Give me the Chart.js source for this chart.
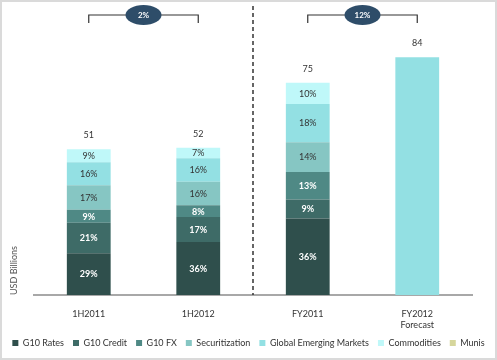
<!DOCTYPE html>
<html>
<head>
<meta charset="utf-8">
<script src="https://cdn.jsdelivr.net/npm/chart.js@4.4.1/dist/chart.umd.min.js"></script>
<style>
  html, body { margin: 0; padding: 0; background: #fff; }
  #wrap { width: 497px; height: 360px; position: relative; }
</style>
</head>
<body>
<div id="wrap"><canvas id="c" width="497" height="360"></canvas></div>
<script>
// ---- Data ----
const categories = ['1H2011', '1H2012', 'FY2011', ['FY2012', 'Forecast']];
const totals = [51, 52, 75, 84];            // USD billions
// Shares of total (%) per business line
const g10Rates       = [29, 36, 36, null];
const g10Credit      = [21, 17, 9, null];
const g10FX          = [9, 8, 13, null];
const securitization = [17, 16, 14, null];
const globalEM       = [16, 16, 18, null];
const commodities    = [9, 7, 10, null];
const munis          = [null, null, null, null];
const forecastTotal  = [null, null, null, 84];
// Growth brackets
const growthPairs  = [[0, 1], [2, 3]];
const growthLabels = ['2%', '12%'];

const seriesNames  = ['G10 Rates', 'G10 Credit', 'G10 FX', 'Securitization', 'Global Emerging Markets', 'Commodities', 'Munis'];
const seriesShares = [g10Rates, g10Credit, g10FX, securitization, globalEM, commodities, munis];
const seriesColors = ['#2f4f4c', '#3e6b67', '#4f8985', '#86c6c3', '#93e0e3', '#bff8f9', '#d6d69c'];
const labelColors  = ['#ffffff', '#ffffff', '#ffffff', '#333333', '#333333', '#333333', '#333333'];

const FONT = 'Lato, "Open Sans", sans-serif';

const datasets = seriesNames.map((name, i) => ({
  label: name,
  data: seriesShares[i].map((s, j) => s == null ? null : totals[j] * s / 100),
  shares: seriesShares[i],
  backgroundColor: seriesColors[i],
  labelColor: labelColors[i],
  stack: 's',
  barPercentage: 0.4,
  categoryPercentage: 1.0,
  borderWidth: 0
}));
datasets.push({
  label: 'FY2012 Forecast',
  data: forecastTotal,
  shares: [null, null, null, null],
  backgroundColor: '#93e0e3',
  stack: 's',
  barPercentage: 0.4,
  categoryPercentage: 1.0,
  borderWidth: 0,
  noLegend: true
});

const decor = {
  id: 'decor',
  beforeDraw(chart) {
    const ctx = chart.ctx;
    ctx.save();
    ctx.fillStyle = '#ffffff';
    ctx.fillRect(0, 0, chart.width, chart.height);
    ctx.strokeStyle = '#dadada';
    ctx.lineWidth = 2;
    ctx.strokeRect(1, 1, chart.width - 2, chart.height - 2);
    ctx.restore();
  },
  afterDatasetsDraw(chart) {
    const ctx = chart.ctx;
    const xs = chart.scales.x;
    const area = chart.chartArea;
    ctx.save();
    // segment labels
    chart.data.datasets.forEach((ds, di) => {
      const meta = chart.getDatasetMeta(di);
      meta.data.forEach((el, j) => {
        const s = ds.shares[j];
        if (s == null) return;
        const y = (el.y + el.base) / 2;
        ctx.fillStyle = ds.labelColor;
        ctx.font = (ds.labelColor === '#ffffff' ? 'bold ' : '') + '9px ' + FONT;
        ctx.textAlign = 'center';
        ctx.textBaseline = 'middle';
        ctx.fillText(s + '%', el.x, y + 0.5);
      });
    });
    // totals above stacks
    totals.forEach((t, j) => {
      let top = Infinity, x = 0;
      chart.data.datasets.forEach((ds, di) => {
        const el = chart.getDatasetMeta(di).data[j];
        if (ds.data[j] != null && el) { top = Math.min(top, el.y); x = el.x; }
      });
      ctx.fillStyle = '#333333';
      ctx.font = '9px ' + FONT;
      ctx.textAlign = 'center';
      ctx.textBaseline = 'middle';
      ctx.fillText(String(t), x, top - 14);
    });
    // dashed separator
    const sepX = (xs.getPixelForValue(1) + xs.getPixelForValue(2)) / 2;
    ctx.strokeStyle = '#333333';
    ctx.lineWidth = 1.5;
    ctx.setLineDash([4, 3]);
    ctx.beginPath();
    ctx.moveTo(sepX, 6);
    ctx.lineTo(sepX, area.bottom);
    ctx.stroke();
    ctx.setLineDash([]);
    // growth brackets
    growthPairs.forEach((p, k) => {
      const x1 = xs.getPixelForValue(p[0]);
      const x2 = xs.getPixelForValue(p[1]);
      const yb = 15;
      ctx.strokeStyle = '#333333';
      ctx.lineWidth = 1.2;
      ctx.beginPath();
      ctx.moveTo(x1, 23); ctx.lineTo(x1, yb); ctx.lineTo(x2, yb); ctx.lineTo(x2, 23);
      ctx.stroke();
      const cx = (x1 + x2) / 2;
      ctx.fillStyle = '#2e4d69';
      ctx.beginPath();
      ctx.ellipse(cx, yb, 18, 10, 0, 0, Math.PI * 2);
      ctx.fill();
      ctx.fillStyle = '#ffffff';
      ctx.font = 'bold 8px ' + FONT;
      ctx.textAlign = 'center';
      ctx.textBaseline = 'middle';
      ctx.fillText(growthLabels[k], cx, yb + 0.5);
    });
    ctx.restore();
  }
};

new Chart(document.getElementById('c'), {
  type: 'bar',
  data: { labels: categories, datasets },
  options: {
    responsive: false,
    animation: false,
    layout: { padding: { top: 12, right: 0, bottom: 2.5, left: 0 } },
    plugins: {
      legend: {
        position: 'bottom',
        labels: {
          boxWidth: 6, boxHeight: 6, padding: 9,
          color: '#333333',
          font: { family: FONT, size: 9 },
          filter: (item, data) => !data.datasets[item.datasetIndex].noLegend
        },
        onClick: null
      },
      tooltip: { enabled: false }
    },
    scales: {
      x: {
        stacked: true,
        grid: { display: false, drawTicks: false },
        border: { display: true, color: '#a8a8a8', width: 2 },
        ticks: { color: '#333333', font: { family: FONT, size: 9 }, padding: 13.5, maxRotation: 0 },
        afterFit(s) { s.height = 34.5; }
      },
      y: {
        stacked: true,
        min: 0, max: 100,
        grid: { display: false, drawTicks: false },
        border: { display: false },
        ticks: { display: false },
        title: { display: true, text: 'USD Billions', align: 'start', color: '#555555',
                 font: { family: FONT, size: 9 }, padding: { top: 9, bottom: 0 } },
        afterFit(s) { s.width = 34; }
      },
      yRight: {
        position: 'right',
        display: true,
        min: 0, max: 100,
        grid: { display: false, drawTicks: false },
        border: { display: false },
        ticks: { display: false },
        afterFit(s) { s.width = 25; }
      }
    }
  },
  plugins: [decor]
});
</script>
</body>
</html>
